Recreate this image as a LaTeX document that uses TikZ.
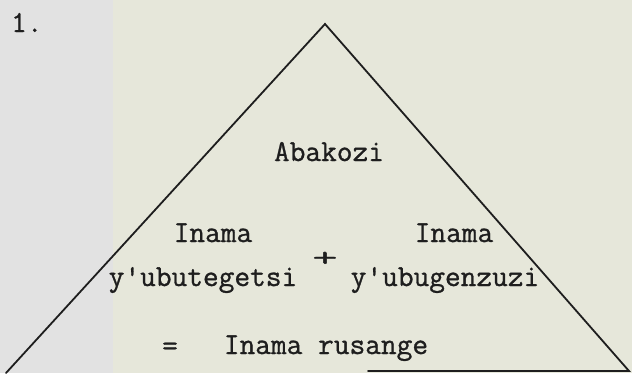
\documentclass[tikz,border=0pt]{standalone}
\usepackage{fontspec}
\newfontfamily\typewriter{Latin Modern Mono}[FakeBold=0.9, AutoFakeBold=0.9]
\definecolor{paper}{RGB}{230,231,218}
\definecolor{greyband}{RGB}{226,226,226}
\definecolor{ink}{RGB}{30,30,30}
\begin{document}
\begin{tikzpicture}[x=1pt,y=-1pt,
  typed/.style={font=\typewriter\bfseries\fontsize{30.5}{30.5}\selectfont, text=ink, inner sep=0pt, anchor=base},
  edge/.style={draw=ink, line width=1.8pt, line cap=round, line join=miter}]
  \fill[paper] (0,0) rectangle (632,373);
  \fill[greyband] (0,0) rectangle (113,373);
  \useasboundingbox (0,0) rectangle (632,373);
  % triangle corners
  \coordinate (apex) at (325,24);
  \coordinate (bl) at (6,373);
  \coordinate (br) at (629,371);
  \coordinate (bstart) at (368,371);
  \draw[edge] (bl) -- (apex) -- (br) -- (bstart);
  % texts
  \node[typed, anchor=base west] (num) at (11,32) {1.};
  \node[typed] (abakozi) at (329,161) {Abakozi};
  \node[typed] (inamaL) at (213,242) {Inama};
  \node[typed] (inamaR) at (454,242) {Inama};
  \node[typed, anchor=center, xscale=1.6, yscale=0.9] (plus) at (325,259) {+};
  \node[typed] (ubut) at (203,286) {y'ubutegetsi};
  \node[typed] (ubug) at (445,286) {y'ubugenzuzi};
  \node[typed, anchor=center] (eq) at (170,349) {=};
  \node[typed] (rus) at (326,354) {Inama rusange};
\end{tikzpicture}
\end{document}
